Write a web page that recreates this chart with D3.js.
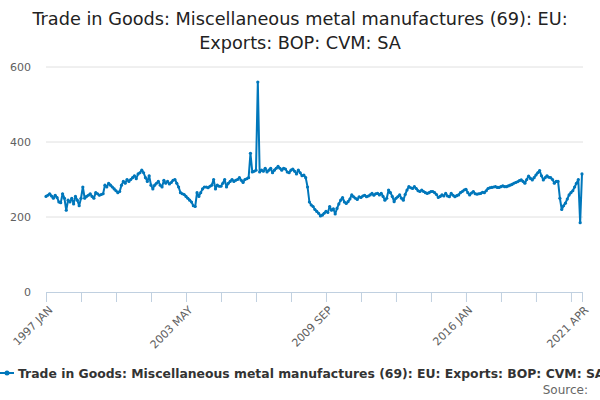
<!DOCTYPE html>
<html><head><meta charset="utf-8">
<script src="https://cdn.jsdelivr.net/npm/d3@7"></script>
<style>body{margin:0;font-family:"DejaVu Sans",sans-serif}svg text{font-family:"DejaVu Sans",sans-serif}</style>
</head><body><svg id="c" width="600" height="400"></svg>
<script>
const titleLines = ["Trade in Goods: Miscellaneous metal manufactures (69): EU:", "Exports: BOP: CVM: SA"];
const seriesName = "Trade in Goods: Miscellaneous metal manufactures (69): EU: Exports: BOP: CVM: SA";
const months = ["JAN","FEB","MAR","APR","MAY","JUN","JUL","AUG","SEP","OCT","NOV","DEC"];
const yTicks = [0, 200, 400, 600];
const values = [
255,258,262,256,250,258,252,240,238,262,
250,218,245,240,250,235,255,245,230,250,
280,250,255,258,262,255,250,265,262,258,
260,262,285,280,290,285,280,275,270,265,
268,285,295,290,300,295,300,305,310,302,
315,318,325,318,305,295,310,285,275,285,
290,295,285,280,298,290,295,288,292,298,
300,290,280,265,262,260,255,250,245,240,
230,228,265,255,265,275,280,280,278,282,
285,300,275,285,282,282,290,300,280,290,
295,300,295,298,300,305,298,292,300,302,
305,370,320,322,325,560,320,325,322,330,
320,325,330,318,325,330,335,330,325,330,
328,320,318,325,328,322,315,325,318,310,
312,305,280,240,232,228,220,215,210,203,
205,210,215,212,228,218,222,208,223,235,
245,252,240,236,241,248,259,254,250,247,
254,252,256,258,254,256,259,263,258,262,
263,259,263,255,245,250,272,265,255,241,
250,254,259,250,245,260,272,281,278,276,
281,276,270,268,272,268,265,263,265,268,
268,265,260,252,255,259,256,263,256,254,
263,258,254,257,259,265,268,272,274,265,
259,264,268,262,261,262,263,266,265,270,
276,278,279,280,281,279,279,281,283,281,
281,283,285,287,290,292,294,297,299,295,
290,300,309,303,299,305,312,318,324,310,
299,305,310,306,305,300,290,295,295,250,
220,230,237,248,259,265,270,280,290,300,185,315];
const labels = values.map((v,i)=> (1997+Math.floor(i/12)) + " " + months[i%12]);

const svg = d3.select("#c");
const color = "#0077bb";
const x = d3.scalePoint().domain(labels).range([46, 582]);
const y = d3.scaleLinear().domain([0, 600]).range([292, 67]);

svg.append("g").selectAll("text").data(titleLines).join("text")
  .attr("x", 300).attr("y", (d,i)=>25+i*24).attr("text-anchor","middle")
  .attr("font-size", 17.7).attr("fill","#222").text(d=>d);

svg.append("g").selectAll("line").data(yTicks.slice(1)).join("line")
  .attr("x1",46).attr("x2",583).attr("y1",d=>y(d)).attr("y2",d=>y(d))
  .attr("stroke","#e0e0e0");
svg.append("g").selectAll("text").data(yTicks).join("text")
  .attr("x",31).attr("y",d=>y(d)+4).attr("text-anchor","end")
  .attr("font-size",11).attr("fill","#606060").text(d=>d);

const tickIdx = labels.map((d,i)=>i).filter(i=> i%19===0 || i===labels.length-1);
const xa = d3.axisBottom(x).tickValues(tickIdx.map(i=>labels[i])).tickSize(10).tickFormat(d=>{
  const i = labels.indexOf(d); return (i%76===0 || i===labels.length-1) ? d : "";});
const g = svg.append("g").attr("transform","translate(0,292)").call(xa);
g.select(".domain").attr("stroke","#c0d0e0").attr("d","M46,0.5H583");
g.selectAll(".tick line").attr("stroke","#c0d0e0");
g.selectAll(".tick text").attr("font-size",11).attr("fill","#606060")
  .attr("x",0).attr("y",0).attr("dy","0.35em")
  .attr("text-anchor","end").attr("transform","translate(4,16) rotate(-45)");

const line = d3.line().x((d,i)=>x(labels[i])).y(d=>y(d));
svg.append("path").datum(values).attr("d",line).attr("fill","none")
  .attr("stroke",color).attr("stroke-width",2).attr("stroke-linejoin","round");
svg.append("g").selectAll("circle").data(values).join("circle")
  .attr("cx",(d,i)=>x(labels[i])).attr("cy",d=>y(d)).attr("r",1.6).attr("fill",color);

svg.append("line").attr("x1",0).attr("x2",14).attr("y1",373).attr("y2",373).attr("stroke",color).attr("stroke-width",2);
svg.append("circle").attr("cx",7).attr("cy",373).attr("r",2.5).attr("fill",color);
svg.append("text").attr("x",18).attr("y",378).attr("font-size",12.4).attr("font-weight","bold")
  .attr("fill","#333").text(seriesName);
svg.append("text").attr("x",588).attr("y",394).attr("text-anchor","end").attr("font-size",12)
  .attr("fill","#666").text("Source:");
</script></body></html>
